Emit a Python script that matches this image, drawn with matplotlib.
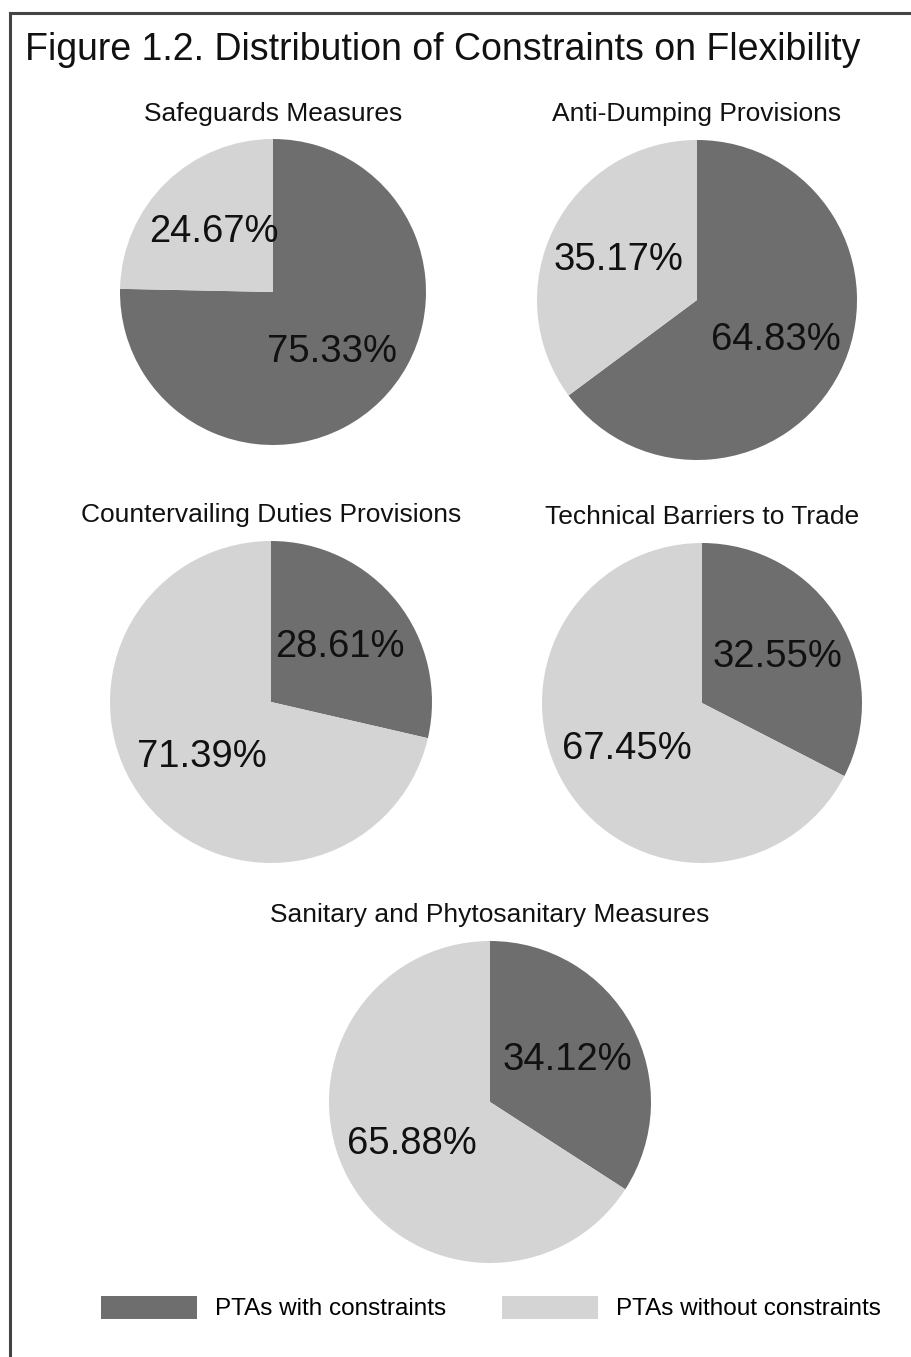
import matplotlib.pyplot as plt
from matplotlib.lines import Line2D

# data
panels = ["Safeguards Measures", "Anti-Dumping Provisions",
          "Countervailing Duties Provisions", "Technical Barriers to Trade",
          "Sanitary and Phytosanitary Measures"]
with_constraints = [75.33, 64.83, 28.61, 32.55, 34.12]
without_constraints = [24.67, 35.17, 71.39, 67.45, 65.88]
legend_labels = ["PTAs with constraints", "PTAs without constraints"]

dark = "#6e6e6e"
light = "#d4d4d4"
W, H = 912, 1357

plt.rcParams['font.family'] = ['Liberation Sans', 'DejaVu Sans']

fig = plt.figure(figsize=(W / 100, H / 100), dpi=100)

# frame around the figure (runs off right and bottom edges)
fig.add_artist(Line2D([10 / W, 10 / W], [0, 1 - 13 / H], transform=fig.transFigure,
                      color="#444444", lw=2.2))
fig.add_artist(Line2D([10 / W, 1], [1 - 13 / H, 1 - 13 / H], transform=fig.transFigure,
                      color="#444444", lw=2.2))

fig.text(25 / W, 1 - 50 / H, "Figure 1.2. Distribution of Constraints on Flexibility",
         fontsize=27, va="center", ha="left", color="#111111")

# pie centres, radii and title rows in pixels
layout = [(273, 292, 153, 114), (697, 300, 160, 114),
          (271, 702, 161, 515), (702, 703, 160, 517),
          (490, 1102, 161, 915)]

wedges = None
for name, a, b, (cx, cy, r, ty) in zip(panels, with_constraints, without_constraints, layout):
    ax = fig.add_axes([(cx - r) / W, 1 - (cy + r) / H, 2 * r / W, 2 * r / H])
    wedges, texts, autotexts = ax.pie([a, b], colors=[dark, light], startangle=90,
                                      counterclock=False, autopct="%.2f%%",
                                      pctdistance=0.55,
                                      textprops=dict(fontsize=27.5, color="#111111"))
    ax.set_xlim(-1, 1)
    ax.set_ylim(-1, 1)
    ax.set_aspect("equal")
    ax.axis("off")
    fig.text(cx / W, 1 - ty / H, name, fontsize=19, ha="center", va="center",
             color="#111111")

fig.legend(wedges, legend_labels, loc="center", bbox_to_anchor=(491 / W, 1 - 1308 / H),
           ncol=2, frameon=False, fontsize=17.5, handlelength=3.95, handleheight=1.1,
           handletextpad=0.73, columnspacing=2.3)

fig.savefig("out.png", dpi=100)
